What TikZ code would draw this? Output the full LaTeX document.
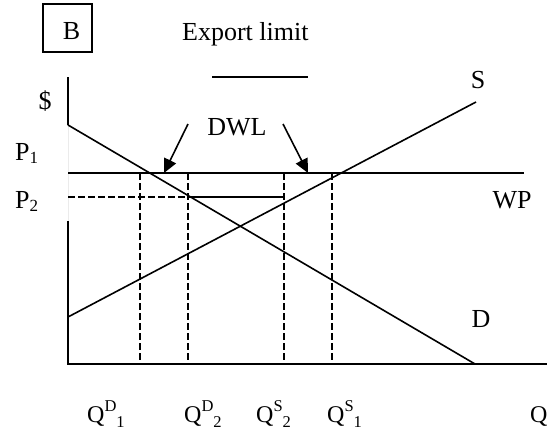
\documentclass[tikz,border=0pt]{standalone}
\usepackage{fontspec}
\setmainfont{Liberation Serif}
\usetikzlibrary{arrows.meta}
\newcommand{\qlab}[2]{Q\raisebox{0.42em}{\fontsize{16.5}{16.5}\selectfont #1}\raisebox{-0.22em}{\fontsize{16.5}{16.5}\selectfont #2}}
\newcommand{\plab}[1]{P\raisebox{-0.12em}{\fontsize{17}{17}\selectfont #1}}
\begin{document}
\begin{tikzpicture}[x=1pt,y=-1pt,
  txt/.style={inner sep=0pt,font=\fontsize{26}{29}\selectfont},
  qtxt/.style={inner sep=0pt,anchor=base west,font=\fontsize{24}{26}\selectfont},
  axis/.style={line width=2pt},
  curve/.style={line width=1.6pt},
  guide/.style={line width=1.6pt,dash pattern=on 6.5pt off 3.5pt},
  pointer/.style={line width=1.6pt,-{Triangle[length=14pt,width=13pt]}}]
\useasboundingbox (0,0) rectangle (547,431);
% box B and title
\node (boxB) [draw,line width=1.4pt,minimum width=49pt,minimum height=48pt,inner sep=0pt] at (67.5,28) {};
\node (lblB) [txt,anchor=base] at (71.5,39) {B};
\node (title) [txt,anchor=base west] at (182,40) {Export limit};
\coordinate (barL) at (212,77);
\coordinate (barR) at (308,77);
\draw[line width=1.8pt] (barL) -- (barR);
% axes
\coordinate (yTop) at (68,77);
\coordinate (dTop) at (68,125);
\coordinate (yLow) at (68,221);
\coordinate (orig) at (68,364);
\coordinate (xEnd) at (547,364);
\draw[line width=1pt,black!8] (dTop) -- (yLow);
\draw[line width=1.3pt] (yTop) -- (dTop);
\draw[axis] (yLow) -- (orig) -- (xEnd);
% price lines
\coordinate (p1L) at (68,173);
\coordinate (p1M) at (476,173);
\coordinate (p1R) at (524,173);
\draw[line width=1.3pt] (p1L) -- (p1R);
\draw[line width=2pt] (p1L) -- (p1M);
\coordinate (p2L) at (68,197);
\coordinate (p2A) at (188,197);
\coordinate (p2B) at (284,197);
\draw[guide] (p2L) -- (p2A);
\draw[curve] (p2A) -- (p2B);
% vertical guides
\foreach \n/\x in {qd1/140,qd2/188,qs2/284,qs1/332}{
  \coordinate (\n T) at (\x,173);
  \coordinate (\n B) at (\x,364);
  \draw[guide] (\n T) -- (\n B);
}
% demand and supply
\coordinate (dEnd) at (475,364);
\draw[curve] (dTop) -- (dEnd);
\coordinate (sStart) at (68,317);
\coordinate (sEnd) at (476,102);
\draw[curve] (sStart) -- (sEnd);
% DWL arrows
\node (dwl) [txt,anchor=base] at (237,135) {DWL};
\coordinate (a1s) at (188,124);
\coordinate (a1e) at (164,173);
\coordinate (a2s) at (283,124);
\coordinate (a2e) at (308,173);
\draw[pointer] (a1s) -- (a1e);
\draw[pointer] (a2s) -- (a2e);
% labels
\node (dollar) [txt,anchor=base] at (45,109) {\$};
\node (P1) [txt,anchor=base west] at (15,160) {\plab{1}};
\node (P2) [txt,anchor=base west] at (15,208) {\plab{2}};
\node (Slab) [txt,anchor=base] at (478,88) {S};
\node (WP) [txt,anchor=base] at (512,208) {WP};
\node (Dlab) [txt,anchor=base] at (481,327) {D};
\node (QD1) [qtxt] at (87,422) {\qlab{D}{1}};
\node (QD2) [qtxt] at (184,422) {\qlab{D}{2}};
\node (QS2) [qtxt] at (256,422) {\qlab{S}{2}};
\node (QS1) [qtxt] at (327,422) {\qlab{S}{1}};
\node (Q) [qtxt] at (530,422) {Q};
\end{tikzpicture}
\end{document}
